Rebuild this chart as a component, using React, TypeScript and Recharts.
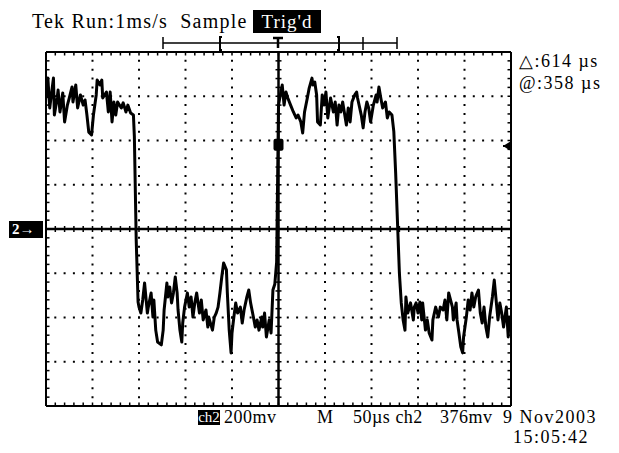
import { ComposedChart, Line, Scatter, XAxis, YAxis, ReferenceLine } from 'recharts';

// Tek scope capture, ch2, 50 µs/div, 200 mV/div, trigger at 376 mV
const timeUs = [
  0, 2, 4, 8, 9, 12, 13, 15, 18, 20, 23, 25, 28, 29, 32, 34, 37, 40, 42, 44,
  46, 49, 51, 54, 55, 58, 60, 61, 65, 67, 69, 71, 73, 75, 77, 81, 83, 86, 88, 91, 94,
  95, 97, 99,
  100, 102, 104, 106, 109, 110, 113, 115, 116, 118, 120, 124, 126, 127, 130, 131, 133, 135, 137, 139,
  141, 142, 144, 146, 147, 149, 152, 154, 156, 158, 160, 162, 165, 167, 169, 172, 174, 175, 179, 181,
  183, 185, 187, 189, 191, 194, 195, 197, 199, 200, 202, 204, 206, 209, 211, 213, 216, 218, 220, 223,
  225, 227, 229, 232, 233, 235, 237, 240, 242, 244,
  246, 248, 250,
  254, 256, 258, 260, 263, 266, 269, 271, 274, 276, 278, 281, 283, 286, 287, 289, 291, 292, 295, 297,
  299, 301, 303, 306, 309, 311, 313, 315, 317, 319, 323, 325, 327, 329, 332, 334, 335, 339, 341, 343,
  345, 347, 349, 352, 355, 356, 358, 360, 362, 365, 367, 369, 372,
  374, 376, 380,
  382, 384, 386, 387, 389, 392, 395, 396, 398, 400, 402, 404, 405, 408, 410, 412, 415, 416, 419, 422,
  424, 427, 429, 431, 433, 437, 438, 441, 442, 444, 446, 448, 449, 452, 454, 456, 458, 460, 462, 465,
  467, 469, 471, 473, 475, 477, 480, 482, 484, 486, 488, 490, 492, 495, 497, 498, 500,
];

const ch2mV = [
  592, 682, 547, 682, 515, 592, 628, 529, 615, 484, 560, 592, 642, 574, 651, 547, 606, 560, 583, 515,
  438, 425, 515, 606, 673, 651, 673, 592, 619, 529, 619, 484, 574, 515, 574, 547, 570, 529, 560, 524, 515,
  420, -50, -330,
  -353, -380, -321, -244, -380, -353, -289, -398, -321, -457, -511, -524, -457, -366, -244, -307, -262, -334, -289, -217,
  -289, -366, -457, -511, -425, -353, -289, -353, -307, -398, -334, -289, -380, -321, -411, -366, -443, -398, -457, -398,
  -380, -353, -289, -217, -154, -185, -289, -457, -560, -470, -398, -334, -380, -353, -425, -366, -307, -276, -334, -398,
  -443, -411, -457, -398, -443, -380, -488, -411, -470, -276,
  -250, -150, 560,
  651, 560, 619, 592, 560, 529, 502, 515, 484, 434, 529, 592, 637, 682, 651, 664, 606, 484, 470, 606,
  560, 619, 502, 592, 529, 574, 470, 560, 529, 574, 470, 547, 484, 574, 606, 619, 592, 515, 457, 529,
  574, 547, 484, 560, 606, 574, 642, 592, 547, 574, 502, 529, 515,
  440, 250, -200,
  -334, -411, -457, -307, -380, -334, -411, -353, -334, -380, -330, -411, -334, -457, -411, -470, -502, -411, -353, -398,
  -353, -366, -321, -411, -289, -353, -411, -334, -411, -470, -533, -560, -488, -398, -321, -366, -289, -353, -307, -276,
  -380, -425, -353, -443, -488, -398, -307, -231, -321, -411, -334, -380, -443, -353, -488, -398, -443,
];

const X_DOMAIN = [0, 500];
const Y_DOMAIN = [-800, 800];
const xDivs = [50, 100, 150, 200, 300, 350, 400, 450];
const yDivs = [-600, -400, -200, 200, 400, 600];
const CENTER_T = 250;
const TRIGGER_MV = 376;

const xMinor = Array.from({ length: 51 }, (_, i) => i * 10);
const yMinor = Array.from({ length: 41 }, (_, i) => -800 + i * 40);

const SERIF = '"Liberation Serif", "Times New Roman", serif';
const INK = '#000';

const trace = timeUs.map((t, i) => ({ t, v: ch2mV[i] }));

// little graticule ticks: on the crosshair and inward on the frame
const tickPoints = [
  ...xMinor.map(t => ({ t, v: 0, side: 'h' })),
  ...yMinor.map(v => ({ t: CENTER_T, v, side: 'v' })),
  ...xMinor.map(t => ({ t, v: 800, side: 'top' })),
  ...xMinor.map(t => ({ t, v: -800, side: 'bottom' })),
  ...yMinor.map(v => ({ t: 0, v, side: 'left' })),
  ...yMinor.map(v => ({ t: 500, v, side: 'right' })),
];

function TickMark(props: any) {
  const { cx, cy, payload } = props;
  const w = 1.5;
  switch (payload.side) {
    case 'h':
      return <line x1={cx} x2={cx} y1={cy - 3} y2={cy + 3} stroke={INK} strokeWidth={w} />;
    case 'v':
      return <line x1={cx - 3} x2={cx + 3} y1={cy} y2={cy} stroke={INK} strokeWidth={w} />;
    case 'top':
      return <line x1={cx} x2={cx} y1={cy} y2={cy + 3.5} stroke={INK} strokeWidth={w} />;
    case 'bottom':
      return <line x1={cx} x2={cx} y1={cy - 3.5} y2={cy} stroke={INK} strokeWidth={w} />;
    case 'left':
      return <line x1={cx} x2={cx + 3.5} y1={cy} y2={cy} stroke={INK} strokeWidth={w} />;
    default:
      return <line x1={cx - 3.5} x2={cx} y1={cy} y2={cy} stroke={INK} strokeWidth={w} />;
  }
}

function TriggerBlob(props: any) {
  const { cx, cy } = props;
  return <rect x={cx - 5} y={cy - 7} width={10} height={12} rx={2} fill={INK} />;
}

function Label({ x, base, size = 18, ls = 0, children }: any) {
  return (
    <div
      style={{
        position: 'absolute',
        left: x,
        top: base - size * 0.8375,
        fontSize: size,
        lineHeight: `${size}px`,
        letterSpacing: ls,
        whiteSpace: 'pre',
        fontFamily: SERIF,
        color: INK,
      }}
    >
      {children}
    </div>
  );
}

export default function App() {
  return (
    <div style={{ position: 'relative', width: 619, height: 453, background: '#fff' }}>
      <style>{'body{margin:0}'}</style>
      <div style={{ position: 'absolute', left: 0, top: 0 }}>
        <ComposedChart width={619} height={453} data={trace} margin={{ top: 52, right: 108, bottom: 47, left: 46 }}>
          <XAxis dataKey="t" type="number" domain={X_DOMAIN} hide allowDataOverflow />
          <YAxis dataKey="v" type="number" domain={Y_DOMAIN} hide allowDataOverflow />
          {xDivs.map(t => (
            <ReferenceLine key={`gx${t}`} x={t} stroke={INK} strokeWidth={2} strokeDasharray="2 6.85" strokeDashoffset={1} />
          ))}
          {yDivs.map(v => (
            <ReferenceLine key={`gy${v}`} y={v} stroke={INK} strokeWidth={2} strokeDasharray="2 7.3" strokeDashoffset={1} />
          ))}
          <ReferenceLine x={CENTER_T} stroke={INK} strokeWidth={2.5} />
          <ReferenceLine y={0} stroke={INK} strokeWidth={2.5} />
          <ReferenceLine x={X_DOMAIN[0]} stroke={INK} strokeWidth={2} />
          <ReferenceLine x={X_DOMAIN[1]} stroke={INK} strokeWidth={2} />
          <ReferenceLine y={Y_DOMAIN[0]} stroke={INK} strokeWidth={2} />
          <ReferenceLine y={Y_DOMAIN[1]} stroke={INK} strokeWidth={2} />
          <Scatter data={tickPoints} dataKey="v" shape={TickMark} isAnimationActive={false} />
          <Line
            dataKey="v"
            type="linear"
            stroke={INK}
            strokeWidth={3}
            strokeLinejoin="round"
            dot={false}
            activeDot={false}
            isAnimationActive={false}
          />
          <Scatter data={[{ t: CENTER_T, v: TRIGGER_MV }]} dataKey="v" shape={TriggerBlob} isAnimationActive={false} />
        </ComposedChart>
      </div>

      {/* header */}
      <Label x={32} base={28} size={20} ls={1.2}>{'Tek Run:1ms/s  Sample'}</Label>
      <div
        style={{
          position: 'absolute', left: 253, top: 10, width: 68, height: 23, background: INK, color: '#fff',
          fontFamily: SERIF, fontSize: 19, lineHeight: '23px', textAlign: 'center', letterSpacing: 1,
        }}
      >
        Trig'd
      </div>

      {/* record position bar */}
      <svg width={619} height={60} style={{ position: 'absolute', left: 0, top: 0 }}>
        <g stroke={INK} strokeWidth={1.5} fill="none">
          <line x1={163} x2={397} y1={43} y2={43} />
          <line x1={163} x2={163} y1={37} y2={49} />
          <line x1={397} x2={397} y1={37} y2={49} />
          <line x1={363} x2={363} y1={37} y2={50} />
          <path d="M222 37 L220 37 L220 50 L222 50" strokeWidth={2} />
          <path d="M337 37 L339 37 L339 50 L337 50" strokeWidth={2} />
          <line x1={273} x2={283} y1={38} y2={38} strokeWidth={2.5} />
          <line x1={278} x2={278} y1={38} y2={48} strokeWidth={2.5} />
        </g>
      </svg>

      {/* cursor readout */}
      <Label x={519} base={67} size={18} ls={1.5}>{'△:614 µs'}</Label>
      <Label x={519} base={89} size={18} ls={1.5}>{'@:358 µs'}</Label>

      {/* channel ground marker */}
      <div
        style={{
          position: 'absolute', left: 9, top: 221, width: 34, height: 17, background: INK, color: '#fff',
          fontFamily: SERIF, fontSize: 15, fontWeight: 'bold', lineHeight: '17px', whiteSpace: 'pre', paddingLeft: 3,
          boxSizing: 'border-box',
        }}
      >
        {'2→'}
      </div>

      {/* trigger level marker */}
      <svg width={20} height={14} style={{ position: 'absolute', left: 500, top: 139 }}>
        <path d="M3 7 L11 2 L11 12 Z" fill={INK} />
        <line x1={3} x2={11} y1={7} y2={7} stroke={INK} strokeWidth={2} />
      </svg>

      {/* footer */}
      <div
        style={{
          position: 'absolute', left: 198, top: 410, width: 22, height: 15, background: INK, color: '#fff',
          fontFamily: SERIF, fontSize: 15, lineHeight: '15px', textAlign: 'center',
        }}
      >
        ch2
      </div>
      <Label x={224} base={423} size={18} ls={0.5}>200mv</Label>
      <Label x={317} base={423} size={18}>M</Label>
      <Label x={353} base={423} size={18} ls={0.5}>{'50µs ch2'}</Label>
      <Label x={440} base={423} size={18} ls={0.5}>376mv</Label>
      <Label x={503} base={423} size={18} ls={1.5}>9 Nov2003</Label>
      <Label x={513} base={443} size={18} ls={1.5}>15:05:42</Label>
    </div>
  );
}
